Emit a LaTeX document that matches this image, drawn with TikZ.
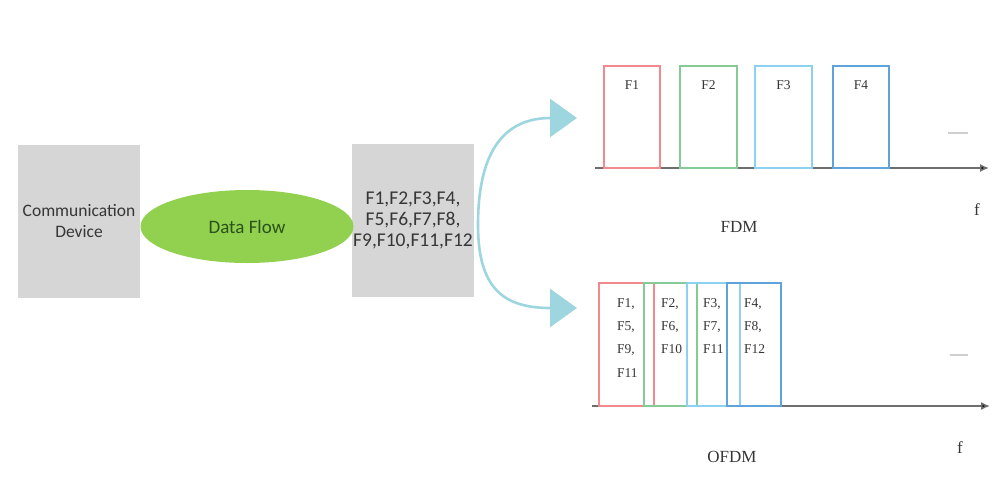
\documentclass[tikz,border=0pt]{standalone}
\usepackage{fontspec}
\setmainfont{Liberation Serif}
\newfontfamily\calib{Carlito}
\usetikzlibrary{arrows.meta,shapes.geometric}

\definecolor{panelgray}{HTML}{D6D6D6}
\definecolor{flowgreen}{HTML}{92D050}
\definecolor{flowtext}{HTML}{2A5219}
\definecolor{darktext}{HTML}{363636}
\definecolor{splitblue}{HTML}{9ED6DF}
\definecolor{chred}{HTML}{F08A8C}
\definecolor{chgreen}{HTML}{84CB98}
\definecolor{chcyan}{HTML}{8CD2F0}
\definecolor{chblue}{HTML}{5FA3DA}
\definecolor{axisgray}{HTML}{6E6E6E}
\definecolor{tickgray}{HTML}{CFCFCF}

\tikzset{
  panel/.style={fill=panelgray, draw=none, inner sep=0pt,
    minimum width=122pt, minimum height=153pt, align=center},
  flow/.style={ellipse, fill=flowgreen, draw=none, inner sep=0pt,
    minimum width=213pt, minimum height=73pt},
  splitarrow/.style={draw=splitblue, line width=2.6pt,
    -{Triangle[length=27pt,width=38pt,fill=splitblue]}},
  axisline/.style={draw=axisgray, line width=1.5pt,
    -{Latex[length=9pt,width=8pt,fill=black]}},
  channel/.style={draw=#1, line width=1.5pt, inner sep=0pt},
  chlabel/.style={font=\fontsize{13.5}{15}\selectfont, text=darktext, inner sep=0pt},
  chlist/.style={font=\fontsize{13.5}{23.3}\selectfont, text=darktext,
    inner sep=0pt, align=left, anchor=north west},
  title/.style={font=\fontsize{17}{20}\selectfont, text=darktext, inner sep=0pt},
  stray/.style={draw=tickgray, line width=1.5pt}
}

\begin{document}
\begin{tikzpicture}[x=1pt,y=-1pt]
\useasboundingbox[fill=white] (0,0) rectangle (1006,482);

% source device, data flow and the channel list
\node[panel, text=darktext, font=\calib\fontsize{17.5}{21}\selectfont]
  (dev) at (79,221.5) {Communication\\Device};
\node[panel, text=darktext, font=\calib\fontsize{19.5}{21}\selectfont]
  (list) at (413,220.5) {F1,F2,F3,F4,\\F5,F6,F7,F8,\\F9,F10,F11,F12};
\node[flow, text=flowtext, font=\calib\fontsize{19}{22}\selectfont]
  (flow) at (247,226.5) {Data Flow};

% split towards the two spectra
\coordinate (split) at (478,225);
\coordinate (fdmin) at (577,118);
\coordinate (ofdmin) at (577,308);
\draw[splitarrow] (split) .. controls (478,150) and (505,118) .. (fdmin);
\draw[splitarrow] (split) .. controls (478,290) and (505,308) .. (ofdmin);

% FDM spectrum
\coordinate (fa0) at (595,168);
\coordinate (fa1) at (989,168);
\draw[axisline] (fa0) -- (fa1);
\node[channel=chred,   minimum width=56pt, minimum height=102pt] (c1) at (632,117) {};
\node[channel=chgreen, minimum width=57pt, minimum height=102pt] (c2) at (708.5,117) {};
\node[channel=chcyan,  minimum width=57pt, minimum height=102pt] (c3) at (783.5,117) {};
\node[channel=chblue,  minimum width=56pt, minimum height=102pt] (c4) at (861,117) {};
\node[chlabel] (l1) at (632,85) {F1};
\node[chlabel] (l2) at (708.5,85) {F2};
\node[chlabel] (l3) at (783.5,85) {F3};
\node[chlabel] (l4) at (861,85) {F4};
\draw[stray] (948,133) -- (968,133);
\node[title] (fdm) at (739,227) {FDM};
\node[title] (ffdm) at (977,210) {f};

% OFDM spectrum
\coordinate (oa0) at (592,406);
\coordinate (oa1) at (990,406);
\draw[axisline] (oa0) -- (oa1);
\node[channel=chred,   minimum width=55pt, minimum height=123pt] (o1) at (626.5,344.5) {};
\node[channel=chgreen, minimum width=53pt, minimum height=123pt] (o2) at (670.5,344.5) {};
\node[channel=chcyan,  minimum width=53pt, minimum height=123pt] (o3) at (713.5,344.5) {};
\node[channel=chblue,  minimum width=54pt, minimum height=123pt] (o4) at (754,344.5) {};
\node[chlist] (t1) at (617,298) {F1,\\F5,\\F9,\\F11};
\node[chlist] (t2) at (661,298) {F2,\\F6,\\F10};
\node[chlist] (t3) at (703,298) {F3,\\F7,\\F11};
\node[chlist] (t4) at (744,298) {F4,\\F8,\\F12};
\draw[stray] (950,355) -- (968,355);
\node[title] (ofdm) at (732,457) {OFDM};
\node[title] (fofdm) at (960,448) {f};
\end{tikzpicture}
\end{document}
